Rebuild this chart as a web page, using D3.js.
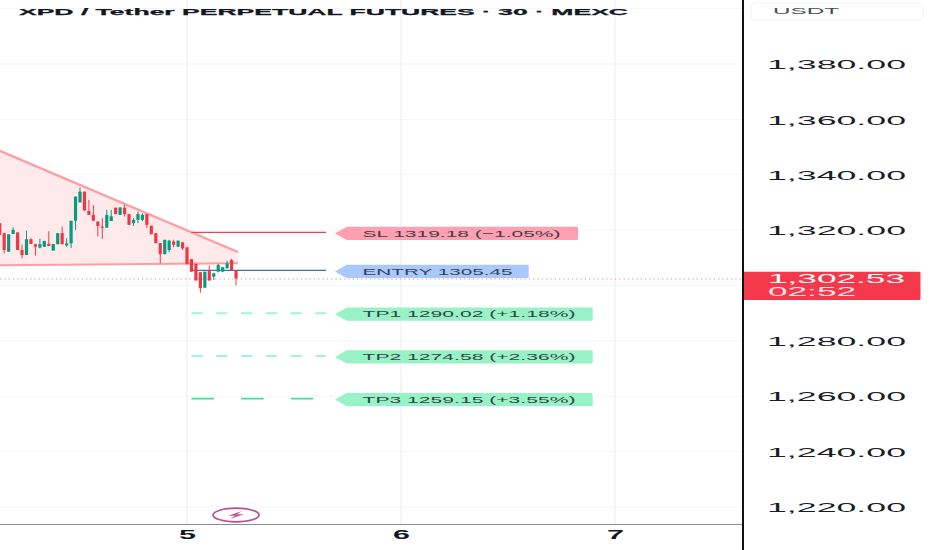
<!DOCTYPE html>
<html><head><meta charset="utf-8">
<script src="https://cdn.jsdelivr.net/npm/d3@7"></script>
<style>html,body{margin:0;padding:0;background:#fff;overflow:hidden}svg{display:block}text{font-family:"Liberation Sans",Arial,sans-serif}</style>
</head><body><svg id="c" width="932" height="550"></svg>
<script>
const titleText = "XPD / Tether PERPETUAL FUTURES · 30 · MEXC";
const currency = "USDT";
const priceTicks = [1220,1240,1260,1280,1300,1320,1340,1360,1380,1400];
const labelledTicks = [1220,1240,1260,1280,1320,1340,1360,1380];
const dayTicks = [5,6,7];
const lastPrice = 1302.53;
const countdown = "02:52";
// candle offset (in 30-minute bars) from the start of day 5
const offsets = d3.range(-42,12);
const opens  = [1322.5,1318.9,1312.2,1318.6,1319.2,1312.8,1311.0,1316.7,1314.9,1313.7,1314.0,1315.0,1312.6,1314.9,1318.9,1314.5,1315.2,1323.4,1330.0,1333.9,1326.9,1325.5,1323.1,1321.3,1320.9,1323.3,1328.1,1325.5,1328.1,1325.8,1322.5,1323.7,1323.7,1325.8,1321.6,1318.9,1315.3,1311.3,1312.8,1315.9,1314.0,1315.6,1313.8,1309.5,1307.8,1304.8,1299.2,1305.4,1303.2,1305.0,1305.0,1306.2,1309.2,1305.3];
const closes = [1318.3,1312.8,1318.5,1320.1,1312.8,1311.0,1316.7,1315.0,1314.0,1314.9,1316.1,1314.3,1315.0,1318.9,1314.9,1315.2,1323.4,1332.1,1333.9,1327.1,1325.5,1323.4,1321.5,1320.9,1325.5,1325.0,1325.8,1328.2,1325.8,1321.9,1323.7,1325.8,1325.5,1321.9,1318.5,1315.3,1311.3,1316.5,1316.2,1314.7,1316.2,1313.4,1307.8,1305.0,1301.8,1299.0,1305.0,1301.8,1304.4,1307.4,1306.6,1308.0,1305.6,1302.53];
const highs  = [1322.5,1318.9,1318.5,1321.0,1319.2,1314.7,1319.8,1317.1,1314.9,1316.9,1316.1,1319.6,1315.0,1318.9,1321.3,1317.1,1323.4,1332.1,1335.4,1333.9,1330.9,1329.1,1323.1,1324.3,1327.3,1327.3,1328.1,1328.2,1329.1,1325.8,1324.3,1326.7,1326.0,1325.8,1321.6,1318.9,1315.3,1316.5,1316.5,1316.5,1316.2,1315.6,1313.8,1309.5,1307.8,1304.8,1305.0,1307.2,1304.4,1307.8,1306.6,1309.0,1309.6,1305.3];
const lows   = [1318.3,1311.6,1312.2,1318.6,1312.8,1309.8,1311.0,1315.0,1310.8,1313.4,1314.0,1314.3,1312.6,1314.9,1314.9,1314.0,1313.5,1320.1,1330.0,1327.1,1325.5,1323.4,1317.7,1316.8,1320.9,1323.3,1325.8,1325.5,1324.9,1321.9,1321.5,1322.5,1323.2,1320.7,1318.5,1315.3,1308.0,1311.3,1312.0,1313.8,1314.0,1312.8,1307.5,1305.0,1301.8,1297.4,1299.2,1301.8,1302.0,1304.7,1305.0,1306.2,1305.6,1300.0];
const wedgeUpperPrice = [1348.6,1312.1];
const wedgeLowerPrice = [1307.3,1308.05];
const wedgeOffsets = [-42,11.4];
const levelNames  = ["SL","ENTRY","TP1","TP2","TP3"];
const levelPrices = [1319.18,1305.45,1290.02,1274.58,1259.15];
const levelPcts   = ["(−1.05%)","","(+1.18%)","(+2.36%)","(+3.55%)"];

const svg = d3.select("#c");
const W=932,H=550,PW=743,PB=524.5;
const y = d3.scaleLinear().domain([1220,1380]).range([507,64]);
const xDay = d3.scaleLinear().domain([5,7]).range([187,615]);
const x = d3.scaleLinear().domain([0,48]).range([187,401]);
const GRID="#f4f5f8";

svg.append("rect").attr("width",W).attr("height",H).attr("fill","#fff");

// grid
svg.append("g").selectAll("line").data(priceTicks).join("line")
  .attr("x1",0).attr("x2",PW).attr("y1",d=>y(d)).attr("y2",d=>y(d)).attr("stroke",GRID);
svg.append("g").selectAll("line").data(dayTicks).join("line")
  .attr("x1",d=>xDay(d)).attr("x2",d=>xDay(d)).attr("y1",0).attr("y2",PB).attr("stroke","#eeeff2").attr("stroke-width",1.2);

// wedge
const area=d3.area().x(d=>x(d.o)).y0(d=>y(d.l)).y1(d=>y(d.u));
const wedge=wedgeOffsets.map((o,i)=>({o,u:wedgeUpperPrice[i],l:wedgeLowerPrice[i]}));
svg.append("path").attr("d",area(wedge)).attr("fill","#feeaea");
const lineU=d3.line().x(d=>x(d.o)).y(d=>y(d.u)), lineL=d3.line().x(d=>x(d.o)).y(d=>y(d.l));
svg.append("path").attr("d",lineU(wedge)).attr("fill","none").attr("stroke","#ff9da1").attr("stroke-width",2.4);
svg.append("path").attr("d",lineL(wedge)).attr("fill","none").attr("stroke","#ff9da1").attr("stroke-width",2);

// last price dotted line
svg.append("line").attr("x1",0).attr("x2",PW).attr("y1",y(lastPrice)+0.5).attr("y2",y(lastPrice)+0.5)
  .attr("stroke","#f58a94").attr("stroke-width",1).attr("stroke-dasharray","1.3 3");

// level lines
const levelStyle=[
 {c:"#ef3f52",w:1.3,d:null,tag:"#ff9fb1",right:578,tw:198},
 {c:"#3f6fb0",w:1.3,d:null,tag:"#a9c9fc",right:528.7,tw:150},
 {c:"#a2f5d0",w:2,d:"11 13.8",tag:"#97f3c6",right:592.7,tw:213},
 {c:"#a2f5d0",w:2,d:"11 13.8",tag:"#97f3c6",right:592.7,tw:213},
 {c:"#43dc9f",w:1.6,d:"22.5 27.2",tag:"#97f3c6",right:592.7,tw:213}];
const lineStart=x(1), lineEnd=[326,326,326,326,314];
levelPrices.forEach((p,i)=>{
  const s=levelStyle[i];
  svg.append("line").attr("x1",lineStart+(i==1?1:0)).attr("x2",lineEnd[i]).attr("y1",y(p)).attr("y2",y(p))
    .attr("stroke",s.c).attr("stroke-width",s.w).attr("stroke-dasharray",s.d);
});

// candles
const candles=offsets.map((t,i)=>({t,o:opens[i],c:closes[i],h:highs[i],l:lows[i]}));
const col=d=>d.c>=d.o?"#089981":"#f23645";
const g=svg.append("g");
g.selectAll("line").data(candles).join("line")
  .attr("x1",d=>x(d.t)).attr("x2",d=>x(d.t)).attr("y1",d=>y(d.h)).attr("y2",d=>y(d.l)).attr("stroke",col).attr("stroke-width",1);
g.selectAll("rect").data(candles).join("rect")
  .attr("x",d=>x(d.t)-1.6).attr("width",3.2)
  .attr("y",d=>y(Math.max(d.o,d.c))).attr("height",d=>Math.max(1,Math.abs(y(d.o)-y(d.c)))).attr("fill",col);

// level tags
levelPrices.forEach((p,i)=>{
  const s=levelStyle[i], cy=y(p)+1, L=346.7, R=s.right, h=6.6, tip=335;
  svg.append("path").attr("fill",s.tag)
    .attr("d",`M${tip},${cy} L${L},${cy-h} L${R-1},${cy-h} Q${R},${cy-h} ${R},${cy-h+1} L${R},${cy+h-1} Q${R},${cy+h} ${R-1},${cy+h} L${L},${cy+h} Z`);
  const label=[levelNames[i],p.toFixed(2),levelPcts[i]].filter(Boolean).join(" ");
  svg.append("text").attr("x",362.5).attr("y",cy+3.2).attr("font-size",9.5).attr("fill","#3a3f4a")
    .attr("textLength",s.tw).attr("lengthAdjust","spacingAndGlyphs").text(label);
});

// price axis
svg.append("rect").attr("x",PW).attr("y",0).attr("width",W-PW).attr("height",H).attr("fill","#fff");
const axisR=d3.axisRight(y).tickValues(labelledTicks).tickFormat(d3.format(",.2f")).tickSize(0).tickPadding(24);
const gr=svg.append("g").attr("transform",`translate(${PW},0)`).call(axisR);
gr.select(".domain").remove();
gr.selectAll("text").attr("font-size",13).attr("font-family",'"Liberation Sans",Arial,sans-serif').attr("fill","#1a1d26")
  .attr("textLength",139).attr("lengthAdjust","spacingAndGlyphs").attr("dy","0.36em");

// day axis
const axisB=d3.axisBottom(xDay).tickValues(dayTicks).tickFormat(d3.format("d")).tickSize(0).tickPadding(6);
const gb=svg.append("g").attr("transform",`translate(0,${PB})`).call(axisB);
gb.select(".domain").remove();
gb.selectAll("text").attr("font-size",12).attr("font-weight","bold").attr("font-family",'"Liberation Sans",Arial,sans-serif').attr("fill","#131722")
  .attr("textLength",17).attr("lengthAdjust","spacingAndGlyphs");
svg.append("line").attr("x1",0).attr("x2",PW).attr("y1",PB).attr("y2",PB).attr("stroke","#8d8d90").attr("stroke-width",1);
svg.append("line").attr("x1",PW).attr("x2",PW).attr("y1",0).attr("y2",H).attr("stroke","#111").attr("stroke-width",2);

// title
svg.append("text").attr("x",19).attr("y",14.6).attr("font-size",9.5).attr("font-weight","bold").attr("fill","#131722")
  .attr("stroke","#131722").attr("stroke-width",0.25)
  .attr("textLength",609).attr("lengthAdjust","spacingAndGlyphs").text(titleText);

// currency box
svg.append("rect").attr("x",751).attr("y",3).attr("width",172).attr("height",17).attr("rx",4)
  .attr("fill","#fff").attr("stroke","#f1f2f5");
svg.append("text").attr("x",773).attr("y",14).attr("font-size",9).attr("fill","#4a4e57")
  .attr("textLength",66).attr("lengthAdjust","spacingAndGlyphs").text(currency);

// last price tag
svg.append("path").attr("fill","#f5394c")
  .attr("d","M744,271.7 H919 Q920.5,271.7 920.5,273 V298.7 Q920.5,300 919,300 H744 Z");
svg.append("text").attr("x",768).attr("y",283).attr("font-size",13).attr("fill","#fff")
  .attr("textLength",137).attr("lengthAdjust","spacingAndGlyphs").text(d3.format(",.2f")(lastPrice));
svg.append("text").attr("x",768).attr("y",296).attr("font-size",12).attr("fill","#fde6e8")
  .attr("textLength",88).attr("lengthAdjust","spacingAndGlyphs").text(countdown);

// flash icon
const fx=x(11), fy=515;
svg.append("ellipse").attr("cx",fx).attr("cy",fy).attr("rx",23).attr("ry",6.8).attr("fill","#fff").attr("stroke","#b9508f").attr("stroke-width",1.7);
svg.append("path").attr("fill","#c2569b")
  .attr("d",`M${fx+6},${fy-4} L${fx-8},${fy+0.8} L${fx-1},${fy+0.8} L${fx-6},${fy+4} L${fx+8},${fy-0.8} L${fx+1},${fy-0.8} Z`);
</script></body></html>
